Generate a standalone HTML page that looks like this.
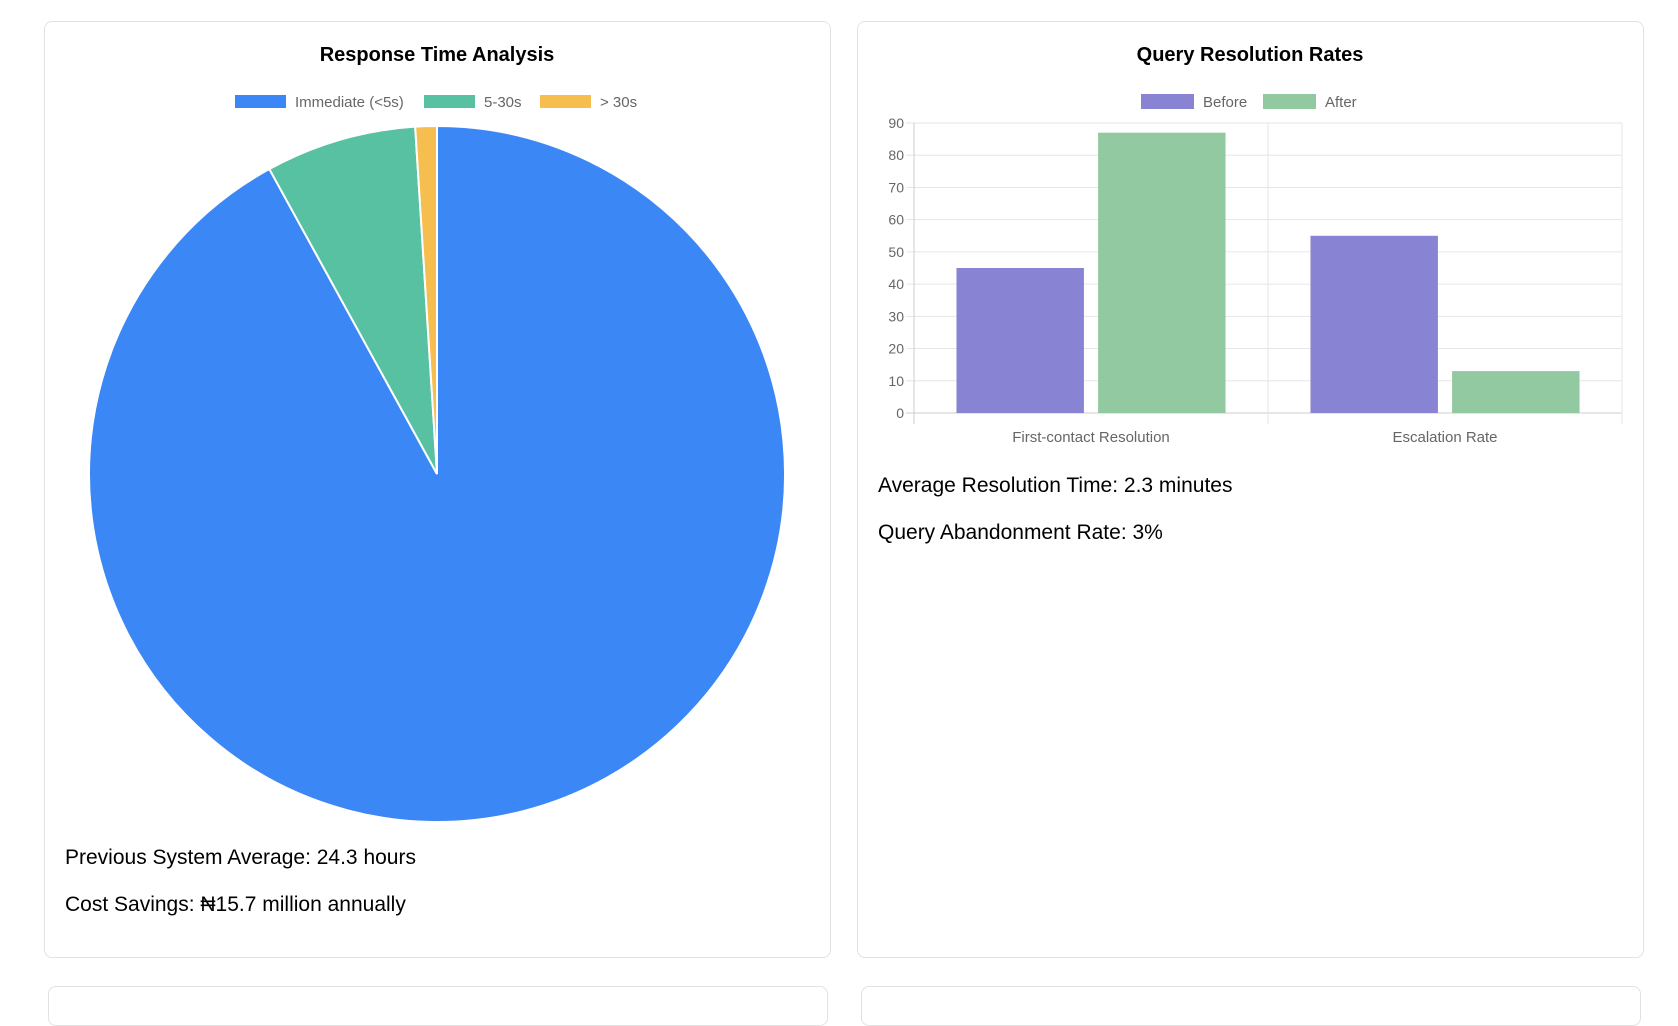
<!DOCTYPE html>
<html><head><meta charset="utf-8"><style>
body{margin:0;width:1678px;height:988px;background:#fff;font-family:"Liberation Sans",sans-serif;overflow:hidden;position:relative}
.card{position:absolute;border:1px solid #e2e2e2;border-radius:8px;background:#fff;box-sizing:border-box}
.t{position:absolute;font-size:21px;color:#000}
svg text{font-family:"Liberation Sans",sans-serif}
</style></head><body>
<div class="card" style="left:44px;top:21px;width:787px;height:937px"></div>
<div class="card" style="left:857px;top:21px;width:787px;height:937px"></div>
<div class="card" style="left:48px;top:986px;width:780px;height:40px"></div>
<div class="card" style="left:861px;top:986px;width:780px;height:40px"></div>
<div class="t" style="left:65px;top:846px">Previous System Average: 24.3 hours</div>
<div class="t" style="left:65px;top:893px">Cost Savings: ₦15.7 million annually</div>
<div class="t" style="left:878px;top:474px">Average Resolution Time: 2.3 minutes</div>
<div class="t" style="left:878px;top:521px">Query Abandonment Rate: 3%</div>
<svg id="svg" width="1678" height="988" style="position:absolute;left:0;top:0"></svg>
<script>
const pieLabels=["Immediate (<5s)","5-30s","> 30s"];
const pieValues=[92,7,1];
const pieColors=["#3b87f5","#57c1a2","#f5be4e"];
const barCategories=["First-contact Resolution","Escalation Rate"];
const barSeries=["Before","After"];
const beforeValues=[45,55];
const afterValues=[87,13];
const barColors=["#8884d3","#93c9a0"];
const yTicks=[0,10,20,30,40,50,60,70,80,90];
const NS="http://www.w3.org/2000/svg",svg=document.getElementById('svg');
function mk(t,a,p){const e=document.createElementNS(NS,t);for(const k in a)e.setAttribute(k,a[k]);(p||svg).appendChild(e);return e;}
function txt(s,a){const e=mk('text',a);e.textContent=s;return e;}
let e=txt("Response Time Analysis",{x:437,y:61,'text-anchor':'middle','font-size':20,'font-weight':'bold',fill:'#000'});

e=txt("Query Resolution Rates",{x:1250,y:61,'text-anchor':'middle','font-size':20,'font-weight':'bold',fill:'#000'});

const pieLegX=[235,424,540];
pieLabels.forEach((l,i)=>{
 const r=mk('rect',{x:pieLegX[i],y:95,width:51,height:13,fill:pieColors[i]});
 
 const t=txt(l,{x:pieLegX[i]+60,y:107,'font-size':15,fill:'#666'});
 
});
const cx=437,cy=474,R=348,tot=pieValues.reduce((a,b)=>a+b,0);
let ang=-Math.PI/2;
pieValues.forEach((v,i)=>{
 const a2=ang+v/tot*2*Math.PI,large=(a2-ang)>Math.PI?1:0;
 const d=`M${cx},${cy}L${cx+R*Math.cos(ang)},${cy+R*Math.sin(ang)}A${R},${R} 0 ${large} 1 ${cx+R*Math.cos(a2)},${cy+R*Math.sin(a2)}Z`;
 const p=mk('path',{d,fill:pieColors[i],stroke:'#fff','stroke-width':2});
 
 ang=a2;
});
const x0=914,x1=1622,yT=123,yB=413,yMax=90;
const ys=v=>yB-(v/yMax)*(yB-yT);
yTicks.forEach(v=>{
 mk('line',{x1:x0-8,x2:x1,y1:ys(v),y2:ys(v),stroke:v==0?'#ccc':'#e6e6e6','stroke-width':1});
 const t=txt(v,{x:x0-10,y:ys(v)+5,'text-anchor':'end','font-size':14,fill:'#666'});
 
});
const cw=(x1-x0)/barCategories.length;
for(let i=0;i<=barCategories.length;i++)mk('line',{x1:x0+i*cw,x2:x0+i*cw,y1:yT,y2:yB+11,stroke:i==0?'#ccc':'#e6e6e6'});
const bw=cw*0.8/2*0.9;
[beforeValues,afterValues].forEach((vals,s)=>{
 vals.forEach((v,i)=>{
  const slotX=x0+i*cw+cw*0.1+s*cw*0.4+(cw*0.4-bw)/2;
  const r=mk('rect',{x:slotX,y:ys(v),width:bw,height:yB-ys(v),fill:barColors[s]});
  
 });
});
barCategories.forEach((c,i)=>{
 const t=txt(c,{x:x0+(i+0.5)*cw,y:442,'text-anchor':'middle','font-size':15,fill:'#666'});
 
});
const barLegX=[1141,1263];
barSeries.forEach((l,i)=>{
 const r=mk('rect',{x:barLegX[i],y:94,width:53,height:15,fill:barColors[i]});
 
 const t=txt(l,{x:barLegX[i]+62,y:107,'font-size':15,fill:'#666'});
 
});
</script>
</body></html>
